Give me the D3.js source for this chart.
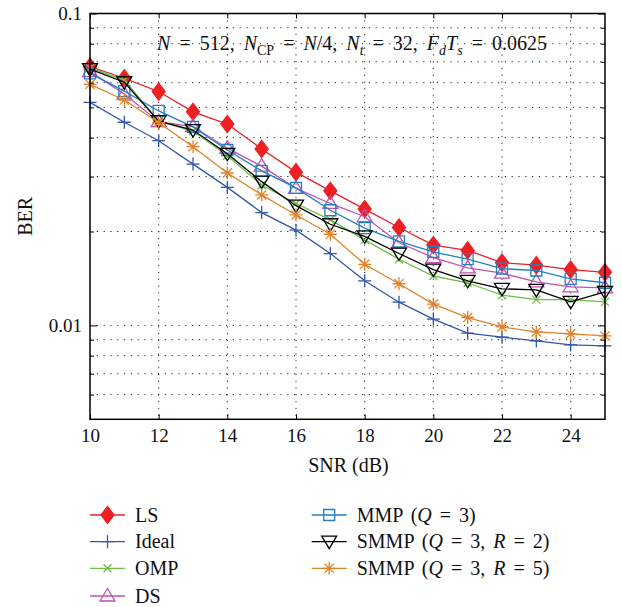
<!DOCTYPE html>
<html>
<head>
<meta charset="utf-8">
<script src="https://cdn.jsdelivr.net/npm/d3@7"></script>
<style>
  body { margin: 0; background: #fff; }
  text { font-family: "Liberation Serif", "Times New Roman", serif; fill: #111; }
</style>
</head>
<body>
<svg id="chart" width="622" height="607"></svg>
<script>
// SNR values (dB) on the horizontal axis
const snr = [10, 11, 12, 13, 14, 15, 16, 17, 18, 19, 20, 21, 22, 23, 24, 25];

// BER per estimator
const berLS    = [0.0675, 0.0620, 0.0562, 0.0484, 0.0442, 0.0368, 0.0310, 0.0270, 0.0236, 0.0206, 0.0181, 0.0174, 0.0159, 0.0156, 0.0151, 0.0148];
const berIdeal = [0.0519, 0.0448, 0.0391, 0.0329, 0.0277, 0.0230, 0.0202, 0.0170, 0.0139, 0.01187, 0.01047, 0.00944, 0.00917, 0.00892, 0.00866, 0.00860];
const berOMP   = [0.0669, 0.0612, 0.0452, 0.0420, 0.0350, 0.0282, 0.0246, 0.0218, 0.0188, 0.0163, 0.0144, 0.0137, 0.0125, 0.0121, 0.0121, 0.0119];
const berDS    = [0.0651, 0.0552, 0.0450, 0.0434, 0.0370, 0.0324, 0.0275, 0.0246, 0.0223, 0.0184, 0.0165, 0.0153, 0.0147, 0.0138, 0.0133, 0.0132];
const berMMP   = [0.0643, 0.0564, 0.0487, 0.0433, 0.0365, 0.0313, 0.0276, 0.0234, 0.0205, 0.0186, 0.0172, 0.0163, 0.0152, 0.0150, 0.0141, 0.0137];
const berSMMP2 = [0.0663, 0.0602, 0.0452, 0.0423, 0.0355, 0.0289, 0.0242, 0.0211, 0.0193, 0.0170, 0.0151, 0.0139, 0.0131, 0.0130, 0.0119, 0.0128];
const berSMMP5 = [0.0593, 0.0528, 0.0447, 0.0374, 0.0308, 0.0262, 0.0226, 0.0196, 0.0157, 0.0136, 0.0117, 0.0106, 0.00989, 0.00953, 0.00939, 0.00925];

// Axis ticks
const xTicks = [10, 12, 14, 16, 18, 20, 22, 24];
const xGrid = [12, 14, 16, 18, 20, 22, 24];
const yMajor = [0.01, 0.1];
const yMinor = [0.006, 0.007, 0.008, 0.009, 0.02, 0.03, 0.04, 0.05, 0.06, 0.07, 0.08, 0.09];
const yGrid = [0.006, 0.007, 0.008, 0.009, 0.01, 0.02, 0.03, 0.04, 0.05, 0.06, 0.07, 0.08, 0.09];

// Legend entries (name parts: [text, italic?])
const legendNames = [
  [["LS", false]],
  [["Ideal", false]],
  [["OMP", false]],
  [["DS", false]],
  [["MMP (", false], ["Q", true], [" = 3)", false]],
  [["SMMP (", false], ["Q", true], [" = 3, ", false], ["R", true], [" = 2)", false]],
  [["SMMP (", false], ["Q", true], [" = 3, ", false], ["R", true], [" = 5)", false]]
];

const series = [
  { values: berLS,    color: "#ED2024", marker: "diamond" },
  { values: berIdeal, color: "#3356A8", marker: "plus" },
  { values: berOMP,   color: "#6DBE45", marker: "cross" },
  { values: berDS,    color: "#C052B5", marker: "triUp" },
  { values: berMMP,   color: "#1F80C4", marker: "square" },
  { values: berSMMP2, color: "#000000", marker: "triDown" },
  { values: berSMMP5, color: "#E0832B", marker: "star" }
];

const markerPaths = {
  diamond: "M0,-8.5L6.5,0L0,8.5L-6.5,0Z",
  plus:    "M-6.5,0H6.5M0,-6.5V6.5",
  cross:   "M-4,-4L4,4M-4,4L4,-4",
  triUp:   "M0,-7.5L7.5,5L-7.5,5Z",
  triDown: "M0,7L7.5,-5.5L-7.5,-5.5Z",
  square:  "M-5.5,-5.5H5.5V5.5H-5.5Z",
  star:    "M-6.5,0H6.5M0,-6.5V6.5M-4.6,-4.6L4.6,4.6M-4.6,4.6L4.6,-4.6"
};
const filled = { diamond: true };

const svg = d3.select("#chart");
const plotLeft = 90, plotRight = 605, plotTop = 13.5, plotBottom = 419.3;

const x = d3.scaleLinear().domain([10, 25]).range([plotLeft, plotRight]);
const y = d3.scaleLog().domain([0.005, 0.1]).range([plotBottom, plotTop]);

// dotted grid
const grid = svg.append("g").attr("stroke", "#222").attr("stroke-width", 1)
  .attr("stroke-dasharray", "1.2,5.6");
grid.selectAll("line.gx").data(xGrid).join("line").attr("class", "gx")
  .attr("x1", d => x(d)).attr("x2", d => x(d)).attr("y1", plotTop).attr("y2", plotBottom);
grid.selectAll("line.gy").data(yGrid).join("line").attr("class", "gy")
  .attr("x1", plotLeft).attr("x2", plotRight).attr("y1", d => y(d)).attr("y2", d => y(d));

// series lines and markers
const line = d3.line().x((d, i) => x(snr[i])).y(d => y(d));
series.forEach(s => {
  svg.append("path").datum(s.values)
    .attr("d", line).attr("fill", "none")
    .attr("stroke", s.color).attr("stroke-width", 1.3);
  svg.append("g").selectAll("path").data(s.values).join("path")
    .attr("transform", (d, i) => `translate(${x(snr[i])},${y(d)})`)
    .attr("d", markerPaths[s.marker])
    .attr("fill", filled[s.marker] ? s.color : "none")
    .attr("stroke", s.color).attr("stroke-width", 1.3);
});

// axes
const tickFont = 19, labelFont = 20;
function styleAxis(g) {
  g.select(".domain").remove();
  g.selectAll(".tick line").attr("stroke", "#000").attr("stroke-width", 1);
  g.selectAll("text").attr("font-size", tickFont).attr("fill", "#111");
}
svg.append("g").attr("transform", `translate(0,${plotBottom})`)
  .call(d3.axisBottom(x).tickValues(xTicks).tickFormat(d3.format("d"))
    .tickSizeInner(-5).tickSizeOuter(0).tickPadding(9))
  .call(styleAxis);
svg.append("g").attr("transform", `translate(0,${plotTop})`)
  .call(d3.axisTop(x).tickValues(xTicks).tickFormat("")
    .tickSizeInner(-5).tickSizeOuter(0))
  .call(styleAxis);
svg.append("g").attr("transform", `translate(${plotLeft},0)`)
  .call(d3.axisLeft(y).tickValues(yMajor).tickFormat(d3.format("~g"))
    .tickSizeInner(-7).tickSizeOuter(0).tickPadding(8))
  .call(styleAxis);
svg.append("g").attr("transform", `translate(${plotLeft},0)`)
  .call(d3.axisLeft(y).tickValues(yMinor).tickFormat("")
    .tickSizeInner(-4).tickSizeOuter(0))
  .call(styleAxis);
svg.append("g").attr("transform", `translate(${plotRight},0)`)
  .call(d3.axisRight(y).tickValues(yMajor).tickFormat("")
    .tickSizeInner(-7).tickSizeOuter(0))
  .call(styleAxis);
svg.append("g").attr("transform", `translate(${plotRight},0)`)
  .call(d3.axisRight(y).tickValues(yMinor).tickFormat("")
    .tickSizeInner(-4).tickSizeOuter(0))
  .call(styleAxis);

// frame
svg.append("rect").attr("x", plotLeft).attr("y", plotTop)
  .attr("width", plotRight - plotLeft).attr("height", plotBottom - plotTop)
  .attr("fill", "none").attr("stroke", "#000").attr("stroke-width", 1.5);

// axis titles
svg.append("text").attr("x", (plotLeft + plotRight) / 2 + 1).attr("y", 472)
  .attr("text-anchor", "middle").attr("font-size", labelFont).text("SNR (dB)");
svg.append("text").attr("transform", `translate(32,${(plotTop + plotBottom) / 2}) rotate(-90)`)
  .attr("text-anchor", "middle").attr("font-size", labelFont).text("BER");

// parameter annotation
const ann = svg.append("text").attr("x", 352).attr("y", 50)
  .attr("text-anchor", "middle").attr("font-size", labelFont)
  .attr("word-spacing", 4);
const annParts = [
  ["N", "i", 0], [" = 512, ", "n", 0], ["N", "i", 0], ["CP", "n", 1], [" = ", "n", 0],
  ["N", "i", 0], ["/4, ", "n", 0], ["N", "i", 0], ["t", "i", 1], [" = 32, ", "n", 0],
  ["F", "i", 0], ["d", "i", 1], ["T", "i", 0], ["s", "i", 1], [" = 0.0625", "n", 0]
];
annParts.forEach(([t, st, sub], i) => {
  const prevSub = i > 0 && annParts[i - 1][2];
  const ts = ann.append("tspan").text(t)
    .attr("font-style", st === "i" ? "italic" : "normal")
    .attr("dy", sub ? (prevSub ? 0 : 5) : (prevSub ? -5 : 0));
  if (sub) ts.attr("font-size", 14);
});

// legend
const legendPos = [
  [90, 515], [90, 541.7], [90, 568.3], [90, 596],
  [311.7, 515], [311.7, 541.7], [311.7, 568.3]
];
series.forEach((s, i) => {
  const [lx, ly] = legendPos[i];
  const g = svg.append("g").attr("transform", `translate(${lx},${ly})`);
  g.append("line").attr("x1", 0).attr("x2", 35).attr("y1", 0).attr("y2", 0)
    .attr("stroke", s.color).attr("stroke-width", 1.3);
  g.append("path").attr("transform", "translate(17.5,0)")
    .attr("d", markerPaths[s.marker])
    .attr("fill", filled[s.marker] ? s.color : "none")
    .attr("stroke", s.color).attr("stroke-width", 1.3);
  const t = g.append("text").attr("x", 45).attr("y", 6.5)
    .attr("font-size", labelFont).attr("word-spacing", 3);
  legendNames[i].forEach(([txt, it]) => {
    t.append("tspan").text(txt).attr("font-style", it ? "italic" : "normal");
  });
});
</script>
</body>
</html>
